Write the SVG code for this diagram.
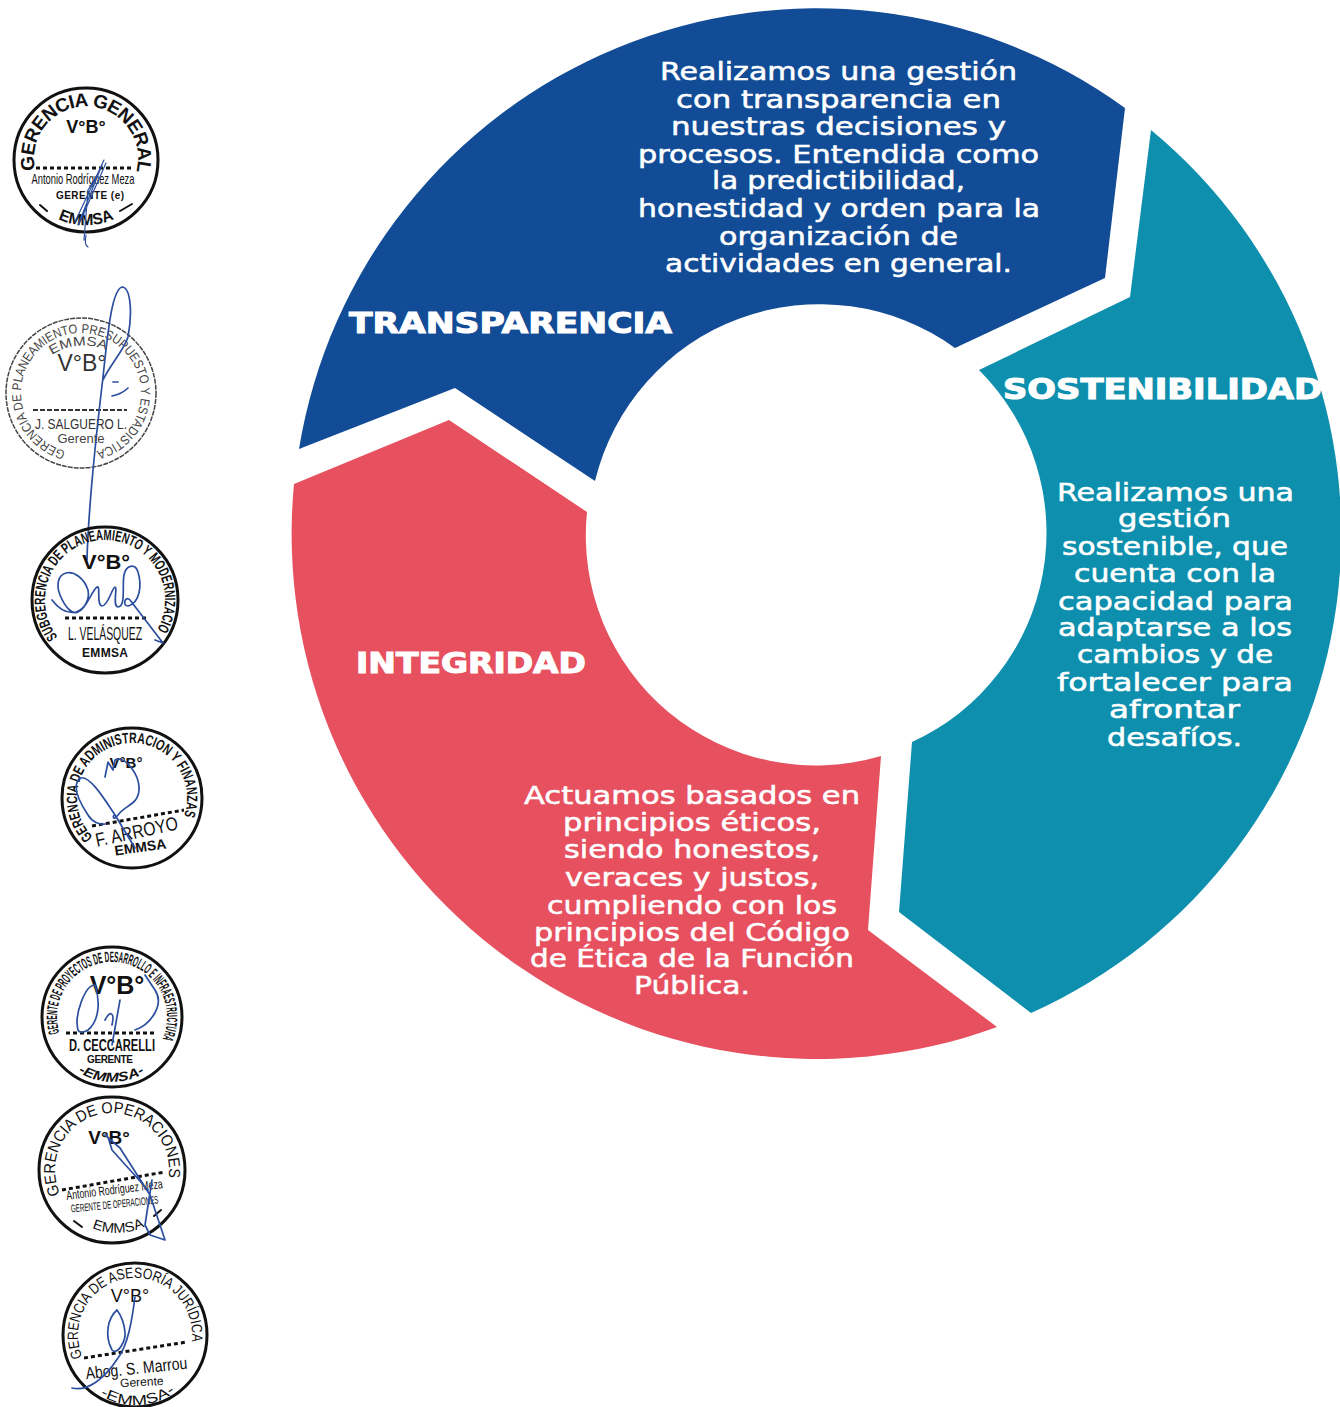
<svg xmlns="http://www.w3.org/2000/svg" xmlns:xlink="http://www.w3.org/1999/xlink" width="1340" height="1407" viewBox="0 0 1340 1407">
<style>
.b{font-family:"DejaVu Sans","Liberation Sans",sans-serif;font-size:25px;fill:#fff;stroke:#fff;stroke-width:.55;text-anchor:start}
.l{font-family:"DejaVu Sans","Liberation Sans",sans-serif;font-weight:700;font-size:28px;fill:#fff;stroke:#fff;stroke-width:1.1}
.r{fill:none;stroke:#111;stroke-width:3}
.t{font-family:"Liberation Sans",sans-serif;font-weight:700;fill:#111}
.n{font-family:"Liberation Sans Narrow","Liberation Sans",sans-serif;fill:#111}
.c{text-anchor:middle}
.d{fill:none;stroke:#111;stroke-width:3;stroke-dasharray:4 3}
.s{fill:none;stroke:#2b4f9e;stroke-width:1.7;stroke-linecap:round;stroke-linejoin:round}
</style>
<defs>
<path id="a1" d="M35.3,170A52,52 0 1 1 136.7,170"/>
<path id="a1b" d="M58,219A66,66 0 0 0 114,219"/>
<path id="a2" d="M65.5,451A60,60 0 1 1 96.5,451"/>
<path id="a2b" d="M52,355A58,58 0 0 1 106,350"/>
<path id="a3" d="M57.7,636.9A60,60 0 1 1 157,630"/>
<path id="a4" d="M93.1,836.9A55,55 0 1 1 184,815.9"/>
<path id="a5" d="M59.4,1033A55,55 0 1 1 162.6,1038.5"/>
<path id="a5b" d="M78,1072A64,64 0 0 0 146,1072"/>
<path id="a6" d="M60.3,1194A57,57 0 1 1 168.6,1177"/>
<path id="a6b" d="M92,1228A66,66 0 0 0 146,1226"/>
<path id="a7" d="M82.5,1357A57,57 0 1 1 191.7,1341"/>
<path id="a7b" d="M100,1395A66,66 0 0 0 176,1391"/>
</defs>

<g id="node-transparencia">
<path fill="#124c96" d="M299,449A525,525 0 0 1 1125,108L1105,278L955,348A231,231 0 0 0 595,481L455,388Z"/>
<text class="b" x="660" y="80" textLength="357" lengthAdjust="spacingAndGlyphs">Realizamos una gestión</text>
<text class="b" x="676" y="108" textLength="325" lengthAdjust="spacingAndGlyphs">con transparencia en</text>
<text class="b" x="671" y="135" textLength="335" lengthAdjust="spacingAndGlyphs">nuestras decisiones y</text>
<text class="b" x="638" y="163" textLength="401" lengthAdjust="spacingAndGlyphs">procesos. Entendida como</text>
<text class="b" x="712" y="189" textLength="253" lengthAdjust="spacingAndGlyphs">la predictibilidad,</text>
<text class="b" x="638" y="217" textLength="402" lengthAdjust="spacingAndGlyphs">honestidad y orden para la</text>
<text class="b" x="719" y="245" textLength="239" lengthAdjust="spacingAndGlyphs">organización de</text>
<text class="b" x="665" y="272" textLength="347" lengthAdjust="spacingAndGlyphs">actividades en general.</text>
<text class="l" x="349" y="333" textLength="323" lengthAdjust="spacingAndGlyphs">TRANSPARENCIA</text>
</g>

<g id="node-sostenibilidad">
<path fill="#0e8fad" d="M1151,130A524.5,524.5 0 0 1 1031,1013L899,912L912,742A230,230 0 0 0 979,370L1130,297Z"/>
<text class="l" x="1003" y="398.5" textLength="319" lengthAdjust="spacingAndGlyphs">SOSTENIBILIDAD</text>
<text class="b" x="1057" y="501" textLength="237" lengthAdjust="spacingAndGlyphs">Realizamos una</text>
<text class="b" x="1118" y="527" textLength="113" lengthAdjust="spacingAndGlyphs">gestión</text>
<text class="b" x="1062" y="555" textLength="226" lengthAdjust="spacingAndGlyphs">sostenible, que</text>
<text class="b" x="1074" y="582" textLength="202" lengthAdjust="spacingAndGlyphs">cuenta con la</text>
<text class="b" x="1058" y="610" textLength="235" lengthAdjust="spacingAndGlyphs">capacidad para</text>
<text class="b" x="1058" y="636" textLength="234" lengthAdjust="spacingAndGlyphs">adaptarse a los</text>
<text class="b" x="1077" y="663" textLength="196" lengthAdjust="spacingAndGlyphs">cambios y de</text>
<text class="b" x="1057" y="691" textLength="236" lengthAdjust="spacingAndGlyphs">fortalecer para</text>
<text class="b" x="1109" y="718" textLength="131" lengthAdjust="spacingAndGlyphs">afrontar</text>
<text class="b" x="1107" y="746" textLength="135" lengthAdjust="spacingAndGlyphs">desafíos.</text>
</g>

<g id="node-integridad">
<path fill="#e6505f" d="M449,420L587,512A230,230 0 0 0 881,756L868,930L997,1027A525,525 0 0 1 294,484Z"/>
<text class="l" x="356" y="673" textLength="230" lengthAdjust="spacingAndGlyphs">INTEGRIDAD</text>
<text class="b" x="524" y="804" textLength="336" lengthAdjust="spacingAndGlyphs">Actuamos basados en</text>
<text class="b" x="563" y="831" textLength="258" lengthAdjust="spacingAndGlyphs">principios éticos,</text>
<text class="b" x="564" y="858" textLength="256" lengthAdjust="spacingAndGlyphs">siendo honestos,</text>
<text class="b" x="565" y="886" textLength="254" lengthAdjust="spacingAndGlyphs">veraces y justos,</text>
<text class="b" x="547" y="914" textLength="290" lengthAdjust="spacingAndGlyphs">cumpliendo con los</text>
<text class="b" x="534" y="941" textLength="316" lengthAdjust="spacingAndGlyphs">principios del Código</text>
<text class="b" x="530" y="967" textLength="324" lengthAdjust="spacingAndGlyphs">de Ética de la Función</text>
<text class="b" x="634" y="994" textLength="116" lengthAdjust="spacingAndGlyphs">Pública.</text>
</g>

<g id="stamp-gerencia-general">
<circle class="r" cx="86" cy="160" r="72"/>
<text class="t" font-size="19"><textPath xlink:href="#a1" href="#a1" textLength="188" lengthAdjust="spacing">GERENCIA GENERAL</textPath></text>
<text class="t c" x="86" y="133" font-size="18">V°B°</text>
<line class="d" x1="36" y1="168" x2="134" y2="168"/>
<text class="n c" x="83" y="184" font-size="15" textLength="103" lengthAdjust="spacingAndGlyphs">Antonio Rodríguez Meza</text>
<text class="t c" x="90" y="199" font-size="10" textLength="68">GERENTE (e)</text>
<path class="s" style="stroke:#111;stroke-width:2" d="M40,205L47,211M120,211L132,204"/>
<text class="t" font-size="16"><textPath xlink:href="#a1b" href="#a1b" textLength="58" lengthAdjust="spacingAndGlyphs">EMMSA</textPath></text>
<path class="s" style="stroke-width:1.2" d="M104,160L75,222M106,163L80,222M100,170L88,190L84,240M86,235Q84,245 88,247M102,165L78,225"/>
</g>

<g id="stamp-planeamiento-presupuesto">
<circle cx="81" cy="393" r="75" fill="none" stroke="#444" stroke-width="1.5" stroke-dasharray="5 1"/>
<text class="t" font-size="13" style="fill:#444;font-weight:400"><textPath xlink:href="#a2" href="#a2" textLength="345" lengthAdjust="spacingAndGlyphs">GERENCIA DE PLANEAMIENTO PRESUPUESTO Y ESTADISTICA</textPath></text>
<text class="t" font-size="13" style="fill:#444;font-weight:400"><textPath xlink:href="#a2b" href="#a2b" textLength="56" lengthAdjust="spacingAndGlyphs">EMMSA</textPath></text>
<text class="n c" x="82" y="371" font-size="23" style="fill:#333;font-family:'Liberation Sans',sans-serif">V°B°</text>
<line x1="33" y1="410" x2="127" y2="410" stroke="#333" stroke-width="2" stroke-dasharray="5 2"/>
<text class="n c" x="81" y="429" font-size="15" style="fill:#333" textLength="92" lengthAdjust="spacingAndGlyphs">J. SALGUERO L.</text>
<text class="n c" x="81" y="443" font-size="13" style="fill:#444;font-family:'Liberation Sans',sans-serif">Gerente</text>
<path class="s" d="M87,560C88,520 92,470 103,377C108,330 112,290 122,287C130,287 133,310 128,337C124,350 110,365 103,380M113,382L118,382M112,396Q122,394 128,388"/>
</g>

<g id="stamp-subgerencia-planeamiento">
<circle class="r" cx="105" cy="600" r="73"/>
<text class="n" font-size="15" style="font-weight:700"><textPath xlink:href="#a3" href="#a3" textLength="259" lengthAdjust="spacingAndGlyphs">SUBGERENCIA DE PLANEAMIENTO Y MODERNIZACIO</textPath></text>
<text class="t c" x="106" y="569" font-size="20" textLength="48" lengthAdjust="spacingAndGlyphs">V°B°</text>
<line class="d" x1="65" y1="618" x2="146" y2="618"/>
<text class="n c" x="105" y="640" font-size="18" textLength="74" lengthAdjust="spacingAndGlyphs">L. VELÁSQUEZ</text>
<text class="t c" x="105" y="657" font-size="12" textLength="46">EMMSA</text>
<path class="s" d="M52,600C58,608 66,614 76,612C84,610 90,600 88,590C84,578 74,571 66,573C58,575 56,585 60,595C65,607 72,615 78,612C86,610 92,590 97,587C101,585 96,605 102,606C108,606 112,588 115,587C118,587 112,606 118,607C126,607 122,585 124,575C126,565 135,563 138,572C142,585 140,603 128,606C122,606 125,595 130,600L163,643L155,640"/>
</g>

<g id="stamp-administracion-finanzas">
<circle class="r" cx="132" cy="798" r="70"/>
<text class="n" font-size="15" style="font-weight:700"><textPath xlink:href="#a4" href="#a4" textLength="234" lengthAdjust="spacingAndGlyphs">GERENCIA DE ADMINISTRACION Y FINANZAS</textPath></text>
<text class="t c" x="126" y="768" font-size="15">V°B°</text>
<line class="d" x1="92" y1="826" x2="184" y2="810"/>
<text class="n c" x="138" y="838" font-size="19" transform="rotate(-12 138 838)" style="font-family:'Liberation Sans',sans-serif" textLength="84" lengthAdjust="spacingAndGlyphs">F. ARROYO</text>
<text class="t c" x="141" y="852" font-size="14" transform="rotate(-8 141 852)">EMMSA</text>
<path class="s" d="M105,777L108,762L113,770L115,760C125,755 140,775 139,790C138,805 125,805 118,815C113,822 112,815 115,815L135,848M115,815C105,800 90,775 80,778C72,785 78,800 88,815C92,822 100,825 105,824"/>
</g>

<g id="stamp-proyectos-desarrollo">
<circle class="r" cx="112" cy="1017" r="70"/>
<text class="n" font-size="15" style="font-weight:700"><textPath xlink:href="#a5" href="#a5" textLength="211" lengthAdjust="spacingAndGlyphs">GERENTE DE PROYECTOS DE DESARROLLO E INFRAESTRUCTURA</textPath></text>
<text class="t c" x="117" y="994" font-size="25">V°B°</text>
<line class="d" x1="66" y1="1033" x2="157" y2="1033"/>
<text class="n c" x="112" y="1051" font-size="16" style="font-weight:700" textLength="86" lengthAdjust="spacingAndGlyphs">D. CECCARELLI</text>
<text class="t c" x="110" y="1063" font-size="10" textLength="46">GERENTE</text>
<text class="t" font-size="13" font-style="italic"><textPath xlink:href="#a5b" href="#a5b" textLength="70" lengthAdjust="spacingAndGlyphs">-EMMSA-</textPath></text>
<path class="s" d="M78,1030C74,1015 85,985 95,985C100,1000 100,1020 88,1030C80,1035 78,1030 78,1030M112,1045L120,1000M105,1020C110,1010 115,1012 112,1025M135,1030C150,1025 165,1005 155,990L145,975"/>
</g>

<g id="stamp-operaciones">
<circle class="r" cx="112" cy="1170" r="73"/>
<text class="t" font-size="16" style="font-weight:400"><textPath xlink:href="#a6" href="#a6" textLength="211" lengthAdjust="spacingAndGlyphs">GERENCIA DE OPERACIONES</textPath></text>
<text class="t c" x="109" y="1144" font-size="19">V°B°</text>
<line class="d" x1="62" y1="1190" x2="165" y2="1172"/>
<text class="n c" x="115" y="1194" font-size="13" transform="rotate(-7 115 1194)" textLength="97" lengthAdjust="spacingAndGlyphs">Antonio Rodríguez Meza</text>
<text class="n c" x="115" y="1208" font-size="11" transform="rotate(-6 115 1208)" textLength="88" lengthAdjust="spacingAndGlyphs">GERENTE DE OPERACIONES</text>
<path class="s" style="stroke:#111;stroke-width:2" d="M74,1221L82,1227M154,1216L161,1210"/>
<text class="n" font-size="14" style="font-family:'Liberation Sans',sans-serif"><textPath xlink:href="#a6b" href="#a6b" textLength="54" lengthAdjust="spacingAndGlyphs">EMMSA</textPath></text>
<path class="s" d="M105,1135L120,1148L150,1195L165,1240L150,1235L145,1225L152,1180M108,1137L112,1150L148,1190"/>
</g>

<g id="stamp-asesoria-juridica">
<circle class="r" cx="135" cy="1335" r="72"/>
<text class="t" font-size="15" style="font-weight:400"><textPath xlink:href="#a7" href="#a7" textLength="208" lengthAdjust="spacingAndGlyphs">GERENCIA DE ASESORÍA JURÍDICA</textPath></text>
<text class="n c" x="130" y="1302" font-size="18" style="font-family:'Liberation Sans',sans-serif">V°B°</text>
<line class="d" x1="84" y1="1358" x2="187" y2="1342"/>
<text class="n c" x="137" y="1374" font-size="17" transform="rotate(-6 137 1374)" textLength="102" lengthAdjust="spacingAndGlyphs">Abog. S. Marrou</text>
<text class="n c" x="142" y="1386" font-size="12" transform="rotate(-3 142 1386)" style="font-family:'Liberation Sans',sans-serif">Gerente</text>
<text class="n" font-size="14" style="font-family:'Liberation Sans',sans-serif"><textPath xlink:href="#a7b" href="#a7b" textLength="80" lengthAdjust="spacingAndGlyphs">-EMMSA-</textPath></text>
<path class="s" d="M135,1297C132,1320 128,1345 118,1358C105,1378 88,1392 72,1388M117,1310C108,1318 104,1335 112,1350C118,1356 126,1340 125,1332C124,1322 120,1314 117,1310"/>
</g>
</svg>
